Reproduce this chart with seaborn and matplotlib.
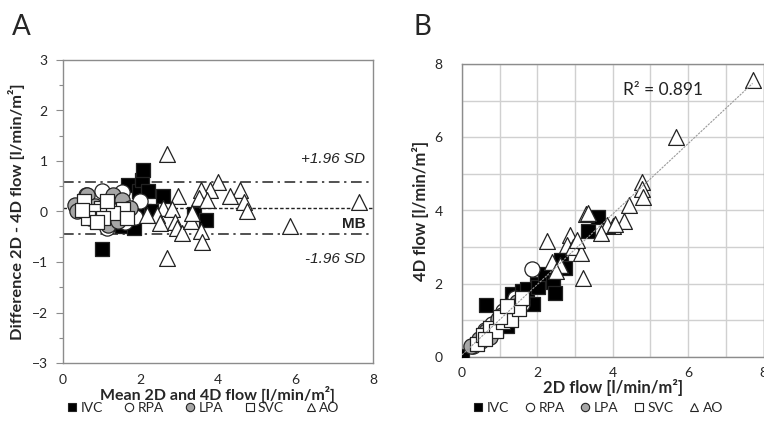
import numpy as np
import pandas as pd
import matplotlib
matplotlib.use("Agg")
import matplotlib.pyplot as plt
import seaborn as sns
from matplotlib.lines import Line2D

# ---------------- data: panel A (Bland-Altman: mean, difference) ----------------
series = ["IVC", "RPA", "LPA", "SVC", "AO"]

a_ivc_x = [1.01, 1.52, 1.68, 1.78, 1.82, 1.95, 2.05, 2.07, 2.10, 2.20, 2.28, 2.57, 3.38, 3.69, 1.90]
a_ivc_y = [-0.74, -0.28, 0.52, -0.20, -0.32, 0.41, 0.62, 0.82, 0.00, 0.41, 0.00, 0.31, -0.04, -0.17, 0.05]

a_rpa_x = [1.00, 1.51, 1.99, 1.86, 1.13, 1.26, 0.59, 1.60, 1.40, 0.80]
a_rpa_y = [0.40, 0.38, 0.20, -0.10, -0.33, 0.23, 0.32, -0.20, 0.10, -0.05]

a_lpa_x = [0.31, 0.61, 1.30, 1.51, 0.35, 1.17, 1.43, 0.83, 0.70, 1.73]
a_lpa_y = [0.13, 0.32, 0.33, 0.23, 0.00, -0.27, -0.19, 0.10, -0.13, 0.07]

a_svc_x = [0.54, 0.97, 1.56, 0.78, 0.65, 1.30, 0.48, 1.04, 1.64, 0.87, 1.13]
a_svc_y = [0.20, 0.07, 0.05, 0.00, -0.13, -0.03, 0.03, -0.13, -0.13, -0.20, 0.20]

a_ao_x = [2.68, 2.68, 4.01, 3.80, 3.55, 4.58, 4.30, 2.98, 3.50, 3.72, 4.68, 4.76, 2.58,
          2.42, 2.18, 2.80, 2.50, 2.90, 2.93, 3.06, 3.30, 3.32, 3.55, 3.58, 5.86, 7.65]
a_ao_y = [1.13, -0.93, 0.58, 0.43, 0.42, 0.42, 0.30, 0.30, 0.27, 0.23, 0.18, 0.00, 0.06,
          -0.06, -0.06, 0.04, -0.23, -0.20, -0.33, -0.42, -0.18, -0.03, -0.38, -0.60, -0.28, 0.19]

mean_bias = 0.065
upper_loa = 0.58
lower_loa = -0.45

# ---------------- data: panel B (2D flow vs 4D flow) ----------------
b_ivc_x = [0.00, 0.63, 1.19, 1.32, 1.58, 1.89, 1.98, 1.72, 2.02, 2.20, 2.42, 2.47, 2.64, 2.73, 3.35, 3.62, 1.05, 0.90]
b_ivc_y = [0.02, 1.42, 0.85, 1.72, 1.80, 1.45, 2.00, 1.85, 1.90, 2.27, 2.06, 1.75, 2.65, 2.42, 3.44, 3.83, 1.00, 0.75]

b_rpa_x = [1.85, 0.30, 0.50, 0.70, 0.80, 1.00, 1.20, 1.30, 1.50, 0.60, 1.10, 1.60, 1.40]
b_rpa_y = [2.40, 0.30, 0.45, 0.60, 0.90, 0.95, 1.10, 1.30, 1.35, 0.75, 1.25, 1.45, 1.60]

b_lpa_x = [0.25, 0.45, 0.65, 0.85, 1.05, 1.25, 1.45, 0.75, 0.95, 1.60]
b_lpa_y = [0.30, 0.50, 0.70, 0.80, 1.15, 1.20, 1.50, 0.55, 1.05, 1.55]

b_svc_x = [0.40, 0.55, 0.75, 0.90, 1.10, 1.30, 1.50, 0.60, 1.00, 1.20, 1.60]
b_svc_y = [0.35, 0.60, 0.80, 0.70, 0.95, 1.00, 1.30, 0.50, 1.10, 1.40, 1.60]

b_ao_x = [7.71, 5.69, 4.77, 4.77, 4.79, 4.44, 4.30, 4.01, 3.84, 3.29, 3.35, 2.25, 2.86, 3.70,
          4.06, 2.78, 2.95, 3.17, 3.20, 2.38, 2.60, 3.05, 2.50]
b_ao_y = [7.55, 6.00, 4.79, 4.58, 4.38, 4.15, 3.70, 3.58, 3.60, 3.90, 3.93, 3.18, 3.33, 3.38,
          3.63, 3.06, 3.01, 2.85, 2.15, 2.60, 2.50, 3.20, 2.35]

r2_text = "R² = 0.891"

# ---------------- styling ----------------
sns.set_theme(style="white")
plt.rcParams['font.family'] = ['Lato', 'DejaVu Sans']

styles = {
    "IVC": dict(marker="s", facecolor="black", s=110),
    "RPA": dict(marker="o", facecolor="white", s=120),
    "LPA": dict(marker="o", facecolor="#a6a6a6", s=120),
    "SVC": dict(marker="s", facecolor="white", s=110),
    "AO":  dict(marker="^", facecolor="white", s=130),
}
edge = "#222222"

def make_df(xs, ys):
    rows = []
    for name, (x, y) in zip(series, zip(xs, ys)):
        for xi, yi in zip(x, y):
            rows.append((name, xi, yi))
    return pd.DataFrame(rows, columns=["series", "x", "y"])

dfA = make_df([a_ivc_x, a_rpa_x, a_lpa_x, a_svc_x, a_ao_x],
              [a_ivc_y, a_rpa_y, a_lpa_y, a_svc_y, a_ao_y])
dfB = make_df([b_ivc_x, b_rpa_x, b_lpa_x, b_svc_x, b_ao_x],
              [b_ivc_y, b_rpa_y, b_lpa_y, b_svc_y, b_ao_y])

fig = plt.figure(figsize=(7.64, 4.23), dpi=100)
axA = fig.add_axes([63/764, 1-363/423, (373-63)/764, (363-60)/423])
axB = fig.add_axes([462/764, 1-357/423, (763.5-462)/764, (357-64)/423])

spine_col = "#8c8c8c"

# ---------- Panel A ----------
for name in series:
    st = styles[name]
    sub = dfA[dfA.series == name]
    sns.scatterplot(data=sub, x="x", y="y", ax=axA, marker=st["marker"], s=st["s"],
                    color=st["facecolor"], edgecolor=edge, linewidth=0.9, zorder=3, legend=False)

axA.axhline(upper_loa, color="#222222", lw=1.1, ls=(0, (7, 3, 1.5, 3)), zorder=2)
axA.axhline(lower_loa, color="#222222", lw=1.1, ls=(0, (7, 3, 1.5, 3)), zorder=2)
axA.axhline(mean_bias, color="#222222", lw=1.0, ls=(0, (2.5, 1.5)), zorder=2)

axA.text(7.8, 1.04, "+1.96 SD", ha="right", va="center", fontsize=11, style="italic",
         family=["Liberation Sans", "DejaVu Sans"], color="#222222")
axA.text(7.8, -0.24, "MB", ha="right", va="center", fontsize=11, weight="bold",
         family=["Liberation Sans", "DejaVu Sans"], color="#222222")
axA.text(7.8, -0.94, "-1.96 SD", ha="right", va="center", fontsize=11, style="italic",
         family=["Liberation Sans", "DejaVu Sans"], color="#222222")

axA.set_xlim(0, 8)
axA.set_ylim(-3, 3)
axA.set_xticks([0, 2, 4, 6, 8])
axA.set_yticks([-3, -2, -1, 0, 1, 2, 3])
axA.set_yticks(np.arange(-2.5, 3, 1.0), minor=True)
axA.tick_params(axis="y", which="major", direction="out", length=5, width=0.8,
                color=spine_col, left=True, labelsize=10, pad=6)
axA.tick_params(axis="y", which="minor", direction="out", length=3, width=0.8,
                color=spine_col, left=True)
axA.tick_params(axis="x", length=0, labelsize=10, pad=8)
axA.set_xlabel("Mean 2D and 4D flow [l/min/m²]", fontsize=11.5, weight="bold", labelpad=0)
axA.set_ylabel("Difference 2D - 4D flow [l/min/m²]", fontsize=11.8, weight="bold", labelpad=5)
for sp in axA.spines.values():
    sp.set_color(spine_col)
    sp.set_linewidth(1.0)

# ---------- Panel B ----------
for name in series:
    st = styles[name]
    sub = dfB[dfB.series == name]
    sns.scatterplot(data=sub, x="x", y="y", ax=axB, marker=st["marker"], s=st["s"],
                    color=st["facecolor"], edgecolor=edge, linewidth=0.9, zorder=3, legend=False)

sns.regplot(data=dfB, x="x", y="y", ax=axB, scatter=False, ci=None, truncate=True,
            line_kws=dict(color="#9a9a9a", lw=0.8, ls=(0, (2, 1)), zorder=4))

axB.text(5.33, 7.28, r2_text, ha="center", va="center", fontsize=12.5, color="#222222")

axB.set_xlim(0, 8)
axB.set_ylim(0, 8)
axB.set_xticks(np.arange(0, 9, 1))
axB.set_yticks(np.arange(0, 9, 1))
axB.set_xticklabels(["0", "", "2", "", "4", "", "6", "", "8"])
axB.set_yticklabels(["0", "", "2", "", "4", "", "6", "", "8"])
axB.grid(True, color="#d0d0d0", lw=1.0)
axB.set_axisbelow(True)
axB.tick_params(axis="both", length=0, labelsize=10)
axB.tick_params(axis="x", pad=7)
axB.tick_params(axis="y", pad=14)
axB.set_xlabel("2D flow [l/min/m²]", fontsize=12, weight="bold", labelpad=0)
axB.set_ylabel("4D flow [l/min/m²]", fontsize=12, weight="bold", labelpad=4)
for sp in axB.spines.values():
    sp.set_color(spine_col)
    sp.set_linewidth(1.0)

# panel letters
fig.text(12/764, 1-27/423, "A", fontsize=20, va="center", ha="left")
fig.text(413/764, 1-27/423, "B", fontsize=20, va="center", ha="left")

# legends
handles = []
for name in series:
    st = styles[name]
    handles.append(Line2D([], [], ls="none", marker=st["marker"], markersize=6,
                          markerfacecolor=st["facecolor"], markeredgecolor=edge,
                          markeredgewidth=0.8, label=name))
fig.legend(handles=handles, loc="center", bbox_to_anchor=(203/764, 1-408/423), ncol=5,
           frameon=False, fontsize=10, handlelength=0.8, handletextpad=0.2,
           columnspacing=1.5, borderpad=0)
fig.legend(handles=handles, loc="center", bbox_to_anchor=(598/764, 1-408/423), ncol=5,
           frameon=False, fontsize=10, handlelength=0.8, handletextpad=0.2,
           columnspacing=1.1, borderpad=0)

fig.savefig("out.png", dpi=100)
